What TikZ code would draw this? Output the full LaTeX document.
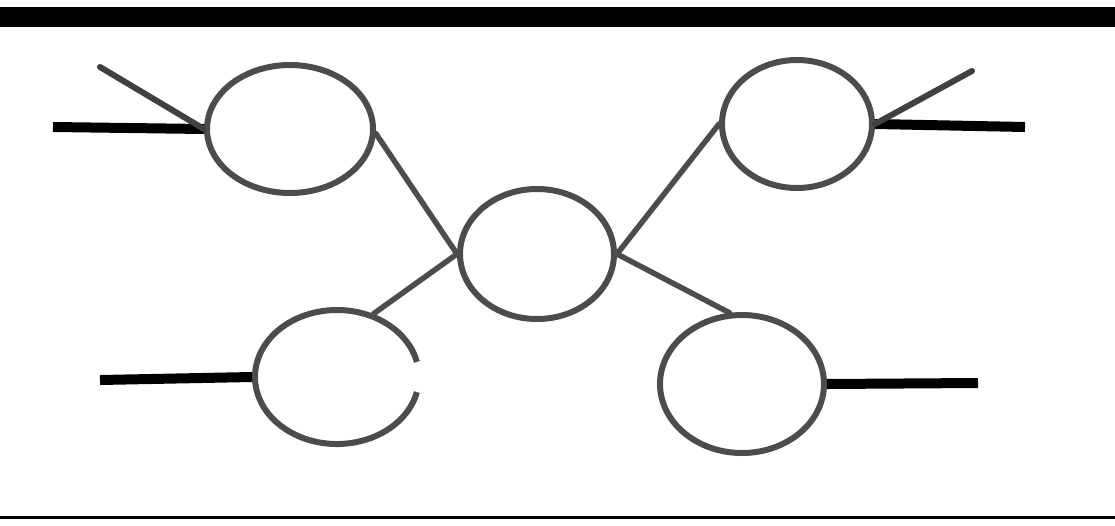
\documentclass[tikz,border=0pt]{standalone}
\usetikzlibrary{shapes.geometric}
\begin{document}
\begin{tikzpicture}[x=1pt,y=-1pt,
  ring/.style={ellipse, draw=black!70, line width=6pt, inner sep=0pt},
  link/.style={draw=black!70, line width=5.5pt, line cap=round},
  feed/.style={draw=black, line width=10pt},
  barb/.style={draw=black!75, line width=6pt, line cap=round}]
\useasboundingbox (0,0) rectangle (1115,525);
% frame bars
\fill[black] (0,7) rectangle (1115,27);
\draw[black, line width=3pt] (0,517) -- (1115,517);
% loops
\node[ring, minimum width=166pt, minimum height=128pt] (TL) at (290,129) {};
\node[ring, minimum width=150pt, minimum height=128pt] (TR) at (797,124) {};
\node[ring, minimum width=154pt, minimum height=130pt] (C) at (537,254) {};
\node[ring, draw=none, minimum width=164pt, minimum height=134pt] (BL) at (337,377) {};
\draw[black!70, line width=6pt] (BL.center) ++(13:82pt and 67pt)
  arc[start angle=13, end angle=347, x radius=82pt, y radius=67pt];
\node[ring, minimum width=164pt, minimum height=138pt] (BR) at (742,384) {};
% free ends
\coordinate (tlin) at (53,127);
\coordinate (tlbarb) at (100,67);
\coordinate (trin) at (1025,127);
\coordinate (trbarb) at (972,71);
\coordinate (blin) at (100,380);
\coordinate (brin) at (978,383);
% feeds
\draw[feed] (tlin) -- (TL.west);
\draw[barb] (tlbarb) -- (TL.west);
\draw[feed] (trin) -- (TR.east);
\draw[barb] (trbarb) -- (TR.east);
\draw[feed] (blin) -- (BL.west);
\draw[feed] (brin) -- (BR.east);
% links
\draw[link] (TL.-3) -- (C.west);
\draw[link] (C.west) -- (BL.60);
\draw[link] (TR.west) -- (C.east);
\draw[link] (C.east) -- (BR.100);
\end{tikzpicture}
\end{document}
